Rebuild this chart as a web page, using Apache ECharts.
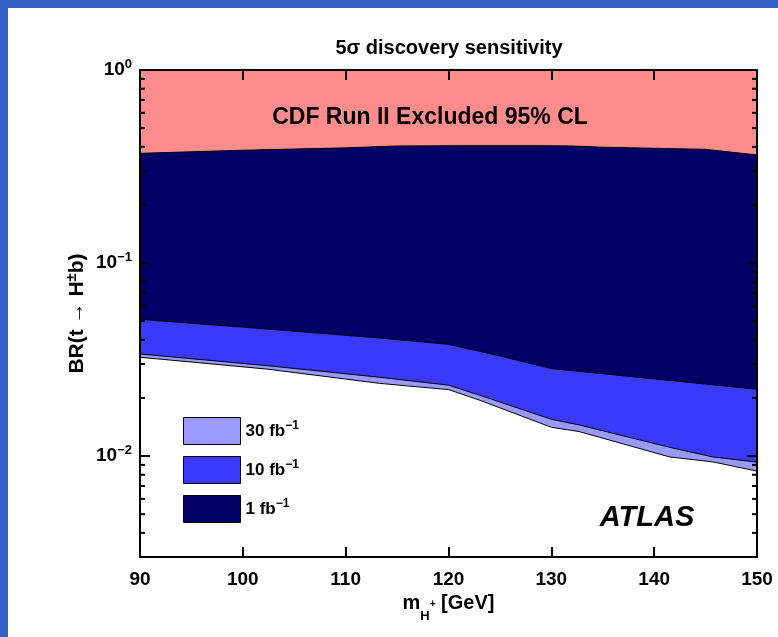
<!DOCTYPE html>
<html><head><meta charset="utf-8">
<script src="https://cdn.jsdelivr.net/npm/echarts@6/dist/echarts.min.js"></script>
<style>
html,body{margin:0;padding:0;background:#3461c7;width:778px;height:637px;overflow:hidden}
#c{position:absolute;left:8px;top:8px;width:770px;height:629px;background:#fff}
</style></head><body><div id="c"></div>
<script>
// ---- data ----
const titleText = '5σ discovery sensitivity';
const xTickValues = [90, 100, 110, 120, 130, 140, 150];
const yMin = 0.003, yMax = 1;
const yMinorTicks = [0.004,0.005,0.006,0.007,0.008,0.009,0.02,0.03,0.04,0.05,0.06,0.07,0.08,0.09,0.2,0.3,0.4,0.5,0.6,0.7,0.8,0.9];

const cdfMass = [90, 100, 110, 115, 120, 130, 132, 135, 141, 145, 150];
const cdfBR   = [0.370, 0.384, 0.395, 0.404, 0.405, 0.405, 0.404, 0.398, 0.392, 0.388, 0.363];

const lumi1Mass = [90, 102.4, 113.3, 120, 125, 130, 150];
const lumi1BR   = [0.0511, 0.0455, 0.0409, 0.0379, 0.0330, 0.0284, 0.0222];

const lumi10Mass = [90, 102.4, 113.3, 120, 123, 130, 132.7, 141.5, 145.7, 150];
const lumi10BR   = [0.0338, 0.0294, 0.0256, 0.0233, 0.0207, 0.0155, 0.0145, 0.0111, 0.0099, 0.0093];

const lumi30Mass = [90, 102.4, 113.3, 120, 123, 130, 132.7, 141.5, 145.7, 150];
const lumi30BR   = [0.0325, 0.0282, 0.0238, 0.0221, 0.0195, 0.0141, 0.0134, 0.0099, 0.00933, 0.00836];

const legendNames = ['30 fb', '10 fb', '1 fb'];

// ---- styles ----
const FONT = 'Liberation Sans, Arial, Helvetica, sans-serif';
const C30 = '#9999ff', C10 = '#3a3aff', C1 = '#000066', CCDF = '#ff8c8c';
const zip = (a, b) => a.map((v, i) => [v, b[i]]);

function areaSeries(name, data, color) {
  return {
    name, type: 'line', data, showSymbol: false, symbol: 'none', silent: true,
    color: color,
    lineStyle: { color: '#000', width: 1 },
    itemStyle: { color: color },
    areaStyle: { color: color, opacity: 1, origin: 'end' },
    z: 2
  };
}

const chart = echarts.init(document.getElementById('c'), null, { renderer: 'canvas' });

const isPow10 = v => Math.abs(Math.log10(v) - Math.round(Math.log10(v))) < 1e-6;
const expStr = v => { const e = Math.round(Math.log10(v)); return e < 0 ? '\u2212' + (-e) : String(e); };

const option = {
  backgroundColor: '#fff',
  animation: false,
  title: {
    text: titleText, left: 436, textAlign: 'center', top: 25,
    textStyle: { fontFamily: FONT, fontWeight: 'bold', fontSize: 20, color: '#000' }
  },
  grid: { left: 132, right: 21, top: 62, bottom: 80, containLabel: false },
  xAxis: [{
    type: 'value', min: xTickValues[0], max: xTickValues[xTickValues.length - 1], interval: 10, z: 10,
    position: 'bottom',
    axisLine: { show: true, onZero: false, lineStyle: { color: '#000', width: 2 } },
    axisTick: { show: true, inside: true, length: 10, lineStyle: { color: '#000', width: 2 } },
    splitLine: { show: false },
    axisLabel: { margin: 13, color: '#000', fontFamily: FONT, fontWeight: 'bold', fontSize: 19 },
    name: '{b|m}{sub|H}{sup|+}{b| [GeV]}', nameLocation: 'middle', nameGap: 31,
    nameTextStyle: { rich: {
      b: { fontFamily: FONT, fontWeight: 'bold', fontSize: 20, color: '#000', lineHeight: 24 },
      sub: { fontFamily: FONT, fontWeight: 'bold', fontSize: 13, color: '#000', lineHeight: 13, verticalAlign: 'bottom', padding: [0, 0, -7, 0] },
      sup: { fontFamily: FONT, fontWeight: 'bold', fontSize: 10, color: '#000', lineHeight: 10, verticalAlign: 'middle' }
    } }
  }, {
    type: 'value', min: xTickValues[0], max: xTickValues[xTickValues.length - 1], interval: 10, z: 10,
    position: 'top',
    axisLine: { show: true, onZero: false, lineStyle: { color: '#000', width: 2 } },
    axisTick: { show: true, inside: true, length: 10, lineStyle: { color: '#000', width: 2 } },
    splitLine: { show: false }, axisLabel: { show: false }
  }],
  yAxis: [{
    type: 'log', logBase: 10, min: yMin, max: yMax, z: 10, position: 'left',
    axisLine: { show: true, onZero: false, lineStyle: { color: '#000', width: 2 } },
    axisTick: { show: true, inside: true, length: 10, lineStyle: { color: '#000', width: 2 } },
    splitLine: { show: false },
    axisLabel: {
      margin: 8,
      formatter: v => isPow10(v) ? '{b|10}{s|' + expStr(v) + '}' : '',
      rich: {
        b: { fontFamily: FONT, fontWeight: 'bold', fontSize: 19, color: '#000', lineHeight: 24 },
        s: { fontFamily: FONT, fontWeight: 'bold', fontSize: 13, color: '#000', lineHeight: 13, verticalAlign: 'top' }
      }
    },
    name: '{b|BR(t \u2192 H}{s|\u00b1}{b|b)}', nameLocation: 'middle', nameGap: 50, nameRotate: 90,
    nameMoveOverlap: false,
    nameTextStyle: { rich: {
      b: { fontFamily: FONT, fontWeight: 'bold', fontSize: 21, color: '#000', lineHeight: 26 },
      s: { fontFamily: FONT, fontWeight: 'bold', fontSize: 15, color: '#000', lineHeight: 15, verticalAlign: 'top' }
    } }
  }, {
    type: 'log', logBase: 10, min: yMin, max: yMax, z: 10, position: 'right',
    axisLine: { show: true, onZero: false, lineStyle: { color: '#000', width: 2 } },
    axisTick: { show: true, inside: true, length: 10, lineStyle: { color: '#000', width: 2 } },
    splitLine: { show: false }, axisLabel: { show: false }
  }],
  legend: {
    orient: 'vertical', left: 175, top: 409, padding: 0, itemWidth: 57, itemHeight: 27, itemGap: 11,
    icon: 'rect', selectedMode: false,
    data: [
      { name: legendNames[0], itemStyle: { color: C30, borderColor: '#000', borderWidth: 1 } },
      { name: legendNames[1], itemStyle: { color: C10, borderColor: '#000', borderWidth: 1 } },
      { name: legendNames[2], itemStyle: { color: C1, borderColor: '#000', borderWidth: 1 } }
    ],
    formatter: n => '{a|' + n + '}{s|\u22121}',
    textStyle: { padding: [0, 0, 0, 0], rich: {
      a: { fontFamily: FONT, fontWeight: 'bold', fontSize: 17, color: '#000', lineHeight: 22 },
      s: { fontFamily: FONT, fontWeight: 'bold', fontSize: 12, color: '#000', lineHeight: 12, verticalAlign: 'top' }
    } }
  },
  graphic: [
    { type: 'text', x: 422, y: 110, z: 50, style: { text: 'CDF Run II Excluded 95% CL', textAlign: 'center', textVerticalAlign: 'middle', fill: '#000', font: 'bold 23px ' + FONT } },
    { type: 'text', x: 639, y: 510, z: 50, style: { text: 'ATLAS', textAlign: 'center', textVerticalAlign: 'middle', fill: '#000', font: 'italic bold 29px ' + FONT } }
  ],
  series: [
    areaSeries(legendNames[0], zip(lumi30Mass, lumi30BR), C30),
    areaSeries(legendNames[1], zip(lumi10Mass, lumi10BR), C10),
    areaSeries(legendNames[2], zip(lumi1Mass, lumi1BR), C1),
    areaSeries('CDF', zip(cdfMass, cdfBR), CCDF),
    {
      type: 'custom', z: 20, silent: true, clip: false,
      data: yMinorTicks.map(v => [xTickValues[0], v]),
      renderItem: (params, api) => {
        const v = api.value(1);
        const pL = api.coord([xTickValues[0], v]);
        const pR = api.coord([xTickValues[xTickValues.length - 1], v]);
        const st = { stroke: '#000', lineWidth: 2 };
        return { type: 'group', children: [
          { type: 'line', shape: { x1: pL[0], y1: pL[1], x2: pL[0] + 5, y2: pL[1] }, style: st },
          { type: 'line', shape: { x1: pR[0] - 5, y1: pR[1], x2: pR[0], y2: pR[1] }, style: st }
        ] };
      }
    }
  ]
};
chart.setOption(option);
</script></body></html>
